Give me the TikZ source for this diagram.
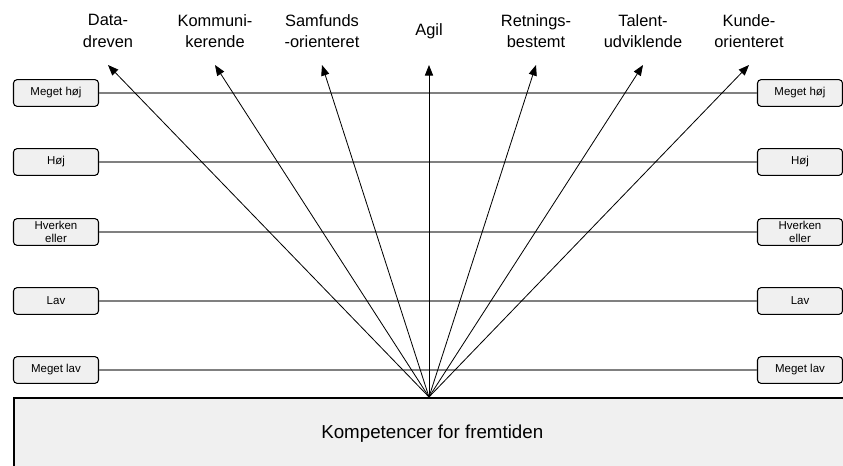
\documentclass[tikz,border=0pt]{standalone}
\usepackage{fontspec}
\setmainfont{Liberation Sans}
\usetikzlibrary{positioning,arrows.meta}

\begin{document}
\begin{tikzpicture}[
  x=0.03cm, y=0.03cm,
  level/.style={draw=black, line width=0.9pt, rounded corners=3pt, fill=black!6, minimum width=2.55cm, minimum height=0.8cm, inner sep=1pt, align=center, font=\fontsize{9.8}{11}\selectfont},
  base/.style={draw=black, line width=1.3pt, fill=black!6, anchor=north west, minimum width=25.11cm, minimum height=2.16cm, font=\fontsize{16}{19}\selectfont},
  scaleline/.style={draw=black!50, line width=1.2pt},
  lbl/.style={align=center, font=\fontsize{14}{18.5}\selectfont},
  arr/.style={-{Triangle[length=9pt, width=7pt]}, draw=black, line width=0.7pt}
]
\clip (0,0) rectangle (843,465);

\node[base] (kf) at (13,68) {Kompetencer for fremtiden};
\coordinate (src) at (429,68);

\foreach \y/\t [count=\i] in {372/Meget høj, 303/Høj, 233/{Hverken\\eller}, 164/Lav, 95/Meget lav} {
  \node[level] (l\i) at (56,\y) {\t};
  \node[level] (r\i) at (800,\y) {\t};
  \draw[scaleline] (l\i.east) -- (r\i.west);
}

\foreach \x/\t [count=\i] in {108/{Data-\\dreven}, 215/{Kommuni-\\kerende}, 322/{Samfunds\\-orienteret}, 429/Agil, 536/{Retnings-\\bestemt}, 643/{Talent-\\udviklende}, 749/{Kunde-\\orienteret}} {
  \node[lbl] (k\i) at (\x,434) {\t};
  \coordinate (tip\i) at (\x,400);
  \draw[arr] (src) -- (tip\i);
}
\end{tikzpicture}
\end{document}
